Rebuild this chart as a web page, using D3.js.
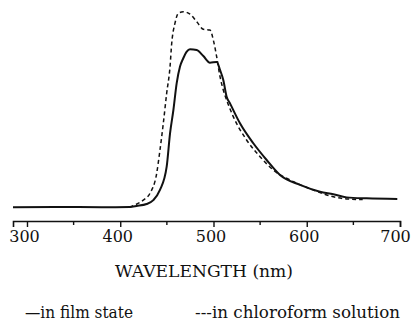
<!DOCTYPE html>
<html lang="en">
<head>
<meta charset="UTF-8"/>
<title>PL spectra</title>
<style>
  * { margin: 0; padding: 0; }
  body { background: #fff; width: 413px; height: 335px; overflow: hidden; }
  svg { display: block; }
</style>
</head>
<body>
<div id="chart"></div>
<script src="https://cdn.jsdelivr.net/npm/d3@7/dist/d3.min.js"></script>
<script>
// film state spectrum: wavelength (nm) / relative intensity
const filmNm  = [285, 330, 380, 410, 417.6, 428.3, 435.5, 442.6, 449.8, 453.4, 457.0, 460.5, 464.1, 467.6, 471.3, 474.8, 482.0, 489.1, 496.2, 503.4, 507.0, 510.5, 514.1, 517.7, 528.4, 542.7, 557.0, 571.3, 592.8, 614.2, 628.5, 642.8, 664.3, 697.1]
const filmVal = [0.0, 0.002, 0.0, 0.002, 0.007, 0.017, 0.037, 0.089, 0.209, 0.380, 0.500, 0.637, 0.723, 0.766, 0.800, 0.812, 0.808, 0.777, 0.743, 0.747, 0.706, 0.654, 0.568, 0.534, 0.432, 0.329, 0.243, 0.166, 0.115, 0.080, 0.067, 0.051, 0.046, 0.043]

// chloroform solution spectrum
const solNm  = [410, 415.8, 424.7, 431.9, 439.1, 442.6, 446.2, 449.8, 453.4, 455.2, 458.7, 462.3, 467.6, 474.8, 482.0, 489.1, 496.2, 499.8, 503.4, 507.0, 510.5, 514.1, 521.2, 535.5, 549.9, 564.1, 585.6, 607.0, 628.5, 642.8, 660]
const solVal = [0.0, 0.012, 0.037, 0.072, 0.175, 0.294, 0.432, 0.586, 0.723, 0.843, 0.946, 0.997, 1.005, 0.993, 0.954, 0.915, 0.911, 0.860, 0.774, 0.671, 0.603, 0.551, 0.466, 0.346, 0.260, 0.192, 0.132, 0.089, 0.054, 0.043, 0.040]

const majorTicks = [300, 400, 500, 600, 700]
const minorTicks = [350, 450, 550, 650]

const W = 413, H = 335
const serif = '"DejaVu Serif", serif'

const svg = d3.select('#chart').append('svg')
  .attr('width', W).attr('height', H)

const x = d3.scaleLinear().domain([285, 700]).range([13, 400])
const y = d3.scaleLinear().domain([0, 1]).range([207.3, 12.7])

const line = d3.line()
  .x(d => x(d[0]))
  .y(d => y(d[1]))
  .curve(d3.curveMonotoneX)

const film = filmNm.map((v, i) => [v, filmVal[i]])
const sol  = solNm.map((v, i) => [v, solVal[i]])

svg.append('path')
  .attr('d', line(sol))
  .attr('fill', 'none')
  .attr('stroke', '#111')
  .attr('stroke-width', 1.5)
  .attr('stroke-dasharray', '4,3')

svg.append('path')
  .attr('d', line(film))
  .attr('fill', 'none')
  .attr('stroke', '#111')
  .attr('stroke-width', 2)

// x axis
const axisY = 221
const gx = svg.append('g').attr('transform', `translate(0,${axisY})`)
gx.call(d3.axisBottom(x).tickValues(majorTicks).tickSize(6).tickPadding(4))
gx.attr('font-family', serif).attr('font-size', 16)
gx.select('.domain').attr('stroke-width', 1.6).attr('stroke', '#111')
gx.selectAll('.tick line').attr('stroke-width', 1.4).attr('stroke', '#111')
gx.selectAll('.tick text')
  .attr('fill', '#111')
  .attr('x', d => d === 700 ? -5 : -3)

gx.selectAll('.minor')
  .data(minorTicks)
  .join('line')
    .attr('x1', d => x(d)).attr('x2', d => x(d))
    .attr('y1', 0).attr('y2', 4)
    .attr('stroke', '#111').attr('stroke-width', 1.4)

svg.append('text')
  .attr('x', 115).attr('y', 277)
  .attr('font-family', serif)
  .attr('font-size', 17)
  .attr('fill', '#111')
  .attr('textLength', 178)
  .attr('lengthAdjust', 'spacingAndGlyphs')
  .text('WAVELENGTH (nm)')

svg.append('text')
  .attr('x', 25).attr('y', 318)
  .attr('font-family', serif)
  .attr('font-size', 16)
  .attr('fill', '#111')
  .attr('textLength', 108)
  .attr('lengthAdjust', 'spacingAndGlyphs')
  .text('\u2014in film state')

svg.append('text')
  .attr('x', 195).attr('y', 318)
  .attr('font-family', serif)
  .attr('font-size', 16)
  .attr('fill', '#111')
  .attr('textLength', 205)
  .attr('lengthAdjust', 'spacingAndGlyphs')
  .text('---in chloroform solution')
</script>
</body>
</html>
